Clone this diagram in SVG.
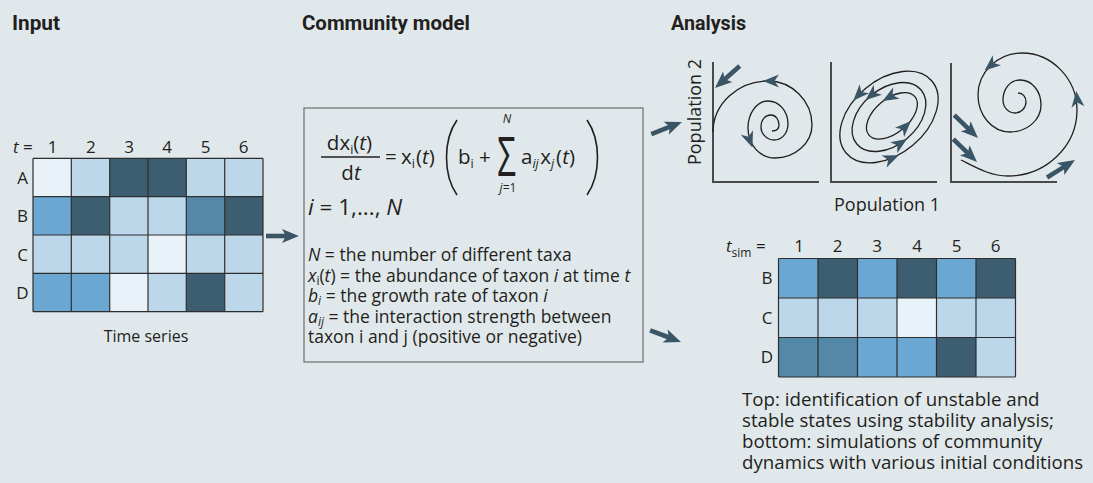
<svg xmlns="http://www.w3.org/2000/svg" xmlns:xlink="http://www.w3.org/1999/xlink" width="1093" height="483" viewBox="0 0 1093 483">
  <style>
    .txt { font-family: "Open Sans", "Noto Sans", sans-serif; fill: #231f20; }
    .title { font-family: Roboto, "Liberation Sans", sans-serif; font-weight: bold; font-size: 20px; fill: #231f20; }
    .lbl { font-size: 17px; }
    .desc { font-size: 17.5px; }
    .it { font-style: italic; }
    .grid line { stroke: #2e2e2e; stroke-width: 1.2; }
    .c0 { fill: #e9f2f9; }
    .c1 { fill: #bdd7ea; }
    .c2 { fill: #6aa8d3; }
    .c3 { fill: #5388a8; }
    .c4 { fill: #3c5e70; }
    .axis { stroke: #4a4a4a; stroke-width: 2; fill: none; }
    .traj { stroke: #231f20; stroke-width: 1.3; fill: none; }
    .head { fill: #3a5565; }
  </style>
  <defs>
    <!-- curved-trajectory arrowhead, centred on its anchor point, pointing +x -->
    <path id="ah" class="head" d="M7,0 L-9,-6.5 L-4.5,0 L-9,6.5 Z"/>
    <!-- thick straight arrow, tip at the origin, pointing +x -->
    <g id="bigArrow" class="head">
      <rect x="-33" y="-2.3" width="21" height="4.6"/>
      <path d="M0,0 L-17,-7 L-13,0 L-17,7 Z"/>
    </g>
  </defs>

  <rect width="1093" height="483" fill="#e1e8eb"/>

  <!-- section headings -->
  <text class="title" x="12" y="30" textLength="48" lengthAdjust="spacingAndGlyphs">Input</text>
  <text class="title" x="302" y="30" textLength="168" lengthAdjust="spacingAndGlyphs">Community model</text>
  <text class="title" x="671" y="30" textLength="75" lengthAdjust="spacingAndGlyphs">Analysis</text>

  <!-- input time-series heat map -->
  <g id="input-grid">
    <g class="txt lbl" text-anchor="middle">
      <text x="13" y="153" text-anchor="start"><tspan class="it">t</tspan> =</text>
      <text x="52.5" y="153">1</text>
      <text x="90.8" y="153">2</text>
      <text x="129" y="153">3</text>
      <text x="167" y="153">4</text>
      <text x="205.5" y="153">5</text>
      <text x="243.5" y="153">6</text>
      <text x="22.5" y="184">A</text>
      <text x="22.5" y="222">B</text>
      <text x="22.5" y="261">C</text>
      <text x="22.5" y="299">D</text>
    </g>
    <g>
      <rect class="c0" x="33" y="158.3" width="38.3" height="38.4"/>
      <rect class="c1" x="71.3" y="158.3" width="38.4" height="38.4"/>
      <rect class="c4" x="109.7" y="158.3" width="38.3" height="38.4"/>
      <rect class="c4" x="148" y="158.3" width="38.3" height="38.4"/>
      <rect class="c1" x="186.3" y="158.3" width="38.4" height="38.4"/>
      <rect class="c1" x="224.7" y="158.3" width="38.3" height="38.4"/>

      <rect class="c2" x="33" y="196.7" width="38.3" height="38.3"/>
      <rect class="c4" x="71.3" y="196.7" width="38.4" height="38.3"/>
      <rect class="c1" x="109.7" y="196.7" width="38.3" height="38.3"/>
      <rect class="c1" x="148" y="196.7" width="38.3" height="38.3"/>
      <rect class="c3" x="186.3" y="196.7" width="38.4" height="38.3"/>
      <rect class="c4" x="224.7" y="196.7" width="38.3" height="38.3"/>

      <rect class="c1" x="33" y="235" width="38.3" height="38.3"/>
      <rect class="c1" x="71.3" y="235" width="38.4" height="38.3"/>
      <rect class="c1" x="109.7" y="235" width="38.3" height="38.3"/>
      <rect class="c0" x="148" y="235" width="38.3" height="38.3"/>
      <rect class="c1" x="186.3" y="235" width="38.4" height="38.3"/>
      <rect class="c1" x="224.7" y="235" width="38.3" height="38.3"/>

      <rect class="c2" x="33" y="273.3" width="38.3" height="38.4"/>
      <rect class="c2" x="71.3" y="273.3" width="38.4" height="38.4"/>
      <rect class="c0" x="109.7" y="273.3" width="38.3" height="38.4"/>
      <rect class="c1" x="148" y="273.3" width="38.3" height="38.4"/>
      <rect class="c4" x="186.3" y="273.3" width="38.4" height="38.4"/>
      <rect class="c1" x="224.7" y="273.3" width="38.3" height="38.4"/>
    </g>
    <g class="grid">
      <line x1="33" y1="158.3" x2="263" y2="158.3"/>
      <line x1="33" y1="196.7" x2="263" y2="196.7"/>
      <line x1="33" y1="235" x2="263" y2="235"/>
      <line x1="33" y1="273.3" x2="263" y2="273.3"/>
      <line x1="33" y1="311.7" x2="263" y2="311.7"/>
      <line x1="33" y1="158.3" x2="33" y2="311.7"/>
      <line x1="71.3" y1="158.3" x2="71.3" y2="311.7"/>
      <line x1="109.7" y1="158.3" x2="109.7" y2="311.7"/>
      <line x1="148" y1="158.3" x2="148" y2="311.7"/>
      <line x1="186.3" y1="158.3" x2="186.3" y2="311.7"/>
      <line x1="224.7" y1="158.3" x2="224.7" y2="311.7"/>
      <line x1="263" y1="158.3" x2="263" y2="311.7"/>
    </g>
    <text class="txt" x="146" y="342" font-size="16" text-anchor="middle">Time series</text>
  </g>

  <!-- generalized Lotka–Volterra model box -->
  <g id="model-box">
    <rect x="304" y="108" width="339" height="254" fill="none" stroke="#6d6d6d" stroke-width="1.2"/>
    <g class="txt" font-size="20.5">
      <!-- left-hand side fraction -->
      <text x="349.5" y="150" text-anchor="middle">dx<tspan font-size="12.5" dy="4">i</tspan><tspan dy="-4">(</tspan><tspan class="it">t</tspan>)</text>
      <line x1="321" y1="157" x2="380" y2="157" stroke="#231f20" stroke-width="1.3"/>
      <text x="351" y="180" text-anchor="middle">d<tspan class="it">t</tspan></text>
      <!-- right-hand side -->
      <text x="385" y="164">=</text>
      <text x="401" y="164">x<tspan font-size="12.5" dy="4">i</tspan><tspan dy="-4" dx="1">(</tspan><tspan class="it">t</tspan>)</text>
      <path d="M457,120 C443,140 443,175 457,195" fill="none" stroke="#231f20" stroke-width="1.6"/>
      <text x="458" y="164">b<tspan font-size="12.5" dy="4">i</tspan></text>
      <text x="479" y="164">+</text>
      <text transform="translate(506.5,176) scale(1,1.65)" font-size="33" text-anchor="middle">Σ</text>
      <text x="507" y="123" font-size="12" class="txt it" text-anchor="middle">N</text>
      <text x="508" y="192" font-size="12" text-anchor="middle"><tspan class="it">j</tspan>=1</text>
      <text x="521" y="164">a<tspan font-size="12.5" dy="4" class="it">ij</tspan><tspan dy="-4" dx="1.5">x</tspan><tspan font-size="12.5" dy="4" class="it">j</tspan><tspan dy="-4" dx="2">(</tspan><tspan class="it">t</tspan>)</text>
      <path d="M587,120 C601,140 601,175 587,195" fill="none" stroke="#231f20" stroke-width="1.6"/>
      <!-- index range -->
      <text x="308" y="215" font-size="22.5"><tspan class="it">i</tspan> = 1,..., <tspan class="it">N</tspan></text>
    </g>
    <g class="txt desc">
      <text x="308" y="261"><tspan class="it">N</tspan> = the number of different taxa</text>
      <text x="308" y="282"><tspan class="it">x</tspan><tspan font-size="12" dy="3">i</tspan><tspan dy="-3">(</tspan><tspan class="it">t</tspan>) = the abundance of taxon <tspan class="it">i</tspan> at time <tspan class="it">t</tspan></text>
      <text x="308" y="302"><tspan class="it">b</tspan><tspan font-size="12" dy="3" class="it">i</tspan><tspan dy="-3"> = the growth rate of taxon </tspan><tspan class="it">i</tspan></text>
      <text x="308" y="323"><tspan class="it">a</tspan><tspan font-size="12" dy="3" class="it">ij</tspan><tspan dy="-3"> = the interaction strength between</tspan></text>
      <text x="308" y="343">taxon i and j (positive or negative)</text>
    </g>
  </g>

  <!-- phase portraits -->
  <g id="phase-unstable">
    <path class="axis" d="M713,62 V182 H819"/>
    <path class="traj" d="M713,132 C713,104 738,81 768,81 C792,81 812,101 812,125 C812,143 795,158 775,158 C760,158 748,145 748,128 C748,113 757,101 768,101 C779,101 788,111 788,124 C788,133 782,140 774,140 C767,140 761,134 761,127 C761,120 765,115 771,115 C776,115 779,120 779,125 C779,129 776,131 772,131"/>
    <use xlink:href="#ah" href="#ah" transform="translate(770,81) rotate(180)"/>
    <use xlink:href="#ah" href="#ah" transform="translate(750,141) rotate(70)"/>
    <use xlink:href="#bigArrow" href="#bigArrow" transform="translate(715,88) rotate(138.4)"/>
  </g>

  <g id="phase-cycles">
    <path class="axis" d="M831,62 V182 H937"/>
    <g transform="translate(889,117) rotate(-40)">
      <ellipse class="traj" cx="0" cy="0" rx="56" ry="37"/>
      <ellipse class="traj" cx="0" cy="0" rx="42" ry="28"/>
      <ellipse class="traj" cx="3" cy="1" rx="30" ry="17"/>
      <use xlink:href="#ah" href="#ah" transform="translate(-9.7,-36.4) rotate(173.4)"/>
      <use xlink:href="#ah" href="#ah" transform="translate(-23.7,33.5) rotate(17)"/>
      <use xlink:href="#ah" href="#ah" transform="translate(0,-28) rotate(180)"/>
      <use xlink:href="#ah" href="#ah" transform="translate(-7.3,27.6) rotate(6.7)"/>
      <use xlink:href="#ah" href="#ah" transform="translate(12.3,-15.2) rotate(190.5)"/>
      <use xlink:href="#ah" href="#ah" transform="translate(7.2,17.8) rotate(-4.6)"/>
    </g>
  </g>

  <g id="phase-stable">
    <path class="axis" d="M951,63 V182 H1057"/>
    <path class="traj" d="M961,160 C975,167 990,176 1008,176 C1046,176 1077,146 1077,110 C1077,79 1052,53 1022,53 C998,53 978,72 978,95 C978,115 992,132 1010,132 C1027,132 1041,120 1041,105 C1041,91 1032,80 1020,80 C1010,80 1003,89 1003,100 C1003,107 1008,113 1015,113 C1021,113 1026,108 1026,102 C1026,97 1023,93 1018,93"/>
    <use xlink:href="#ah" href="#ah" transform="translate(990,66) rotate(140)"/>
    <use xlink:href="#ah" href="#ah" transform="translate(1077,98) rotate(-96)"/>
    <use xlink:href="#bigArrow" href="#bigArrow" transform="translate(978,138) rotate(44)"/>
    <use xlink:href="#bigArrow" href="#bigArrow" transform="translate(977,162) rotate(44)"/>
    <use xlink:href="#bigArrow" href="#bigArrow" transform="translate(1075,160) rotate(-32)"/>
  </g>

  <g id="axis-labels" class="txt" font-size="18">
    <text transform="translate(701,112) rotate(-90)" text-anchor="middle">Population 2</text>
    <text x="887" y="211" text-anchor="middle">Population 1</text>
  </g>

  <!-- simulated community heat map -->
  <g id="sim-grid">
    <g class="txt lbl" text-anchor="middle">
      <text x="726" y="252" text-anchor="start"><tspan class="it">t</tspan><tspan font-size="12" dy="5">sim</tspan><tspan dy="-5"> =</tspan></text>
      <text x="799" y="252">1</text>
      <text x="837.5" y="252">2</text>
      <text x="877" y="252">3</text>
      <text x="917" y="252">4</text>
      <text x="956.5" y="252">5</text>
      <text x="995.5" y="252">6</text>
      <text x="767" y="284">B</text>
      <text x="767" y="324">C</text>
      <text x="767" y="363">D</text>
    </g>
    <g>
      <rect class="c2" x="778.5" y="258.5" width="39.5" height="39.5"/>
      <rect class="c4" x="818" y="258.5" width="39.5" height="39.5"/>
      <rect class="c2" x="857.5" y="258.5" width="39.5" height="39.5"/>
      <rect class="c4" x="897" y="258.5" width="39.5" height="39.5"/>
      <rect class="c2" x="936.5" y="258.5" width="39.5" height="39.5"/>
      <rect class="c4" x="976" y="258.5" width="39.5" height="39.5"/>

      <rect class="c1" x="778.5" y="298" width="39.5" height="39.5"/>
      <rect class="c1" x="818" y="298" width="39.5" height="39.5"/>
      <rect class="c1" x="857.5" y="298" width="39.5" height="39.5"/>
      <rect class="c0" x="897" y="298" width="39.5" height="39.5"/>
      <rect class="c1" x="936.5" y="298" width="39.5" height="39.5"/>
      <rect class="c1" x="976" y="298" width="39.5" height="39.5"/>

      <rect class="c3" x="778.5" y="337.5" width="39.5" height="39.5"/>
      <rect class="c3" x="818" y="337.5" width="39.5" height="39.5"/>
      <rect class="c2" x="857.5" y="337.5" width="39.5" height="39.5"/>
      <rect class="c2" x="897" y="337.5" width="39.5" height="39.5"/>
      <rect class="c4" x="936.5" y="337.5" width="39.5" height="39.5"/>
      <rect class="c1" x="976" y="337.5" width="39.5" height="39.5"/>
    </g>
    <g class="grid">
      <line x1="778.5" y1="258.5" x2="1015.5" y2="258.5"/>
      <line x1="778.5" y1="298" x2="1015.5" y2="298"/>
      <line x1="778.5" y1="337.5" x2="1015.5" y2="337.5"/>
      <line x1="778.5" y1="377" x2="1015.5" y2="377"/>
      <line x1="778.5" y1="258.5" x2="778.5" y2="377"/>
      <line x1="818" y1="258.5" x2="818" y2="377"/>
      <line x1="857.5" y1="258.5" x2="857.5" y2="377"/>
      <line x1="897" y1="258.5" x2="897" y2="377"/>
      <line x1="936.5" y1="258.5" x2="936.5" y2="377"/>
      <line x1="976" y1="258.5" x2="976" y2="377"/>
      <line x1="1015.5" y1="258.5" x2="1015.5" y2="377"/>
    </g>
  </g>

  <g id="caption" class="txt" font-size="18.7">
    <text x="742" y="406">Top: identification of unstable and</text>
    <text x="742" y="427">stable states using stability analysis;</text>
    <text x="742" y="448">bottom: simulations of community</text>
    <text x="742" y="469">dynamics with various initial conditions</text>
  </g>

  <!-- flow arrows between sections -->
  <g id="connectors">
    <use xlink:href="#bigArrow" href="#bigArrow" transform="translate(299,236)"/>
    <use xlink:href="#bigArrow" href="#bigArrow" transform="translate(682,122) rotate(-21.5)"/>
    <use xlink:href="#bigArrow" href="#bigArrow" transform="translate(681,342) rotate(20.6)"/>
  </g>
</svg>
